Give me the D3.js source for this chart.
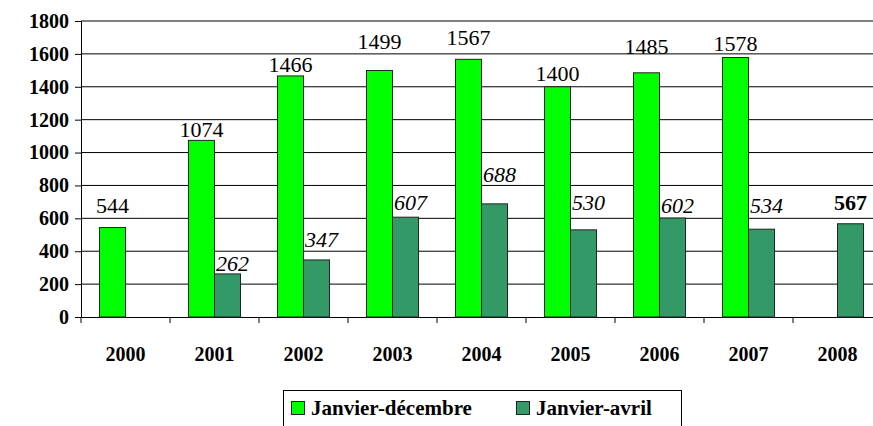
<!DOCTYPE html>
<html>
<head>
<meta charset="utf-8">
<script src="https://cdn.jsdelivr.net/npm/d3@7"></script>
</head>
<body style="margin:0">
<svg id="chart" width="873" height="426" font-family="Liberation Serif"></svg>
<script>
const years = ["2000", "2001", "2002", "2003", "2004", "2005", "2006", "2007", "2008"];
const janDec = [544, 1074, 1466, 1499, 1567, 1400, 1485, 1578, null];
const janApr = [null, 262, 347, 607, 688, 530, 602, 534, 567];
const yTicks = [0, 200, 400, 600, 800, 1000, 1200, 1400, 1600, 1800];
const seriesNames = ["Janvier-décembre", "Janvier-avril"];
const colors = ["#00ff00", "#339966"];

// label layout: pixel gap between bar top and label baseline (as placed in the original)
const liftDec = [15, 3, 4, 21, 14, 6, 19, 7, 0];
const liftApr = [0, 3, 13, 7, 22, 20, 5, 16, 14];

const width = 873, height = 426;
const marginLeft = 81, marginRight = -9, marginTop = 21, marginBottom = 109;
const font = "Liberation Serif";

const svg = d3.select("#chart");

const x = d3.scaleBand(years, [marginLeft, width - marginRight]).paddingInner(0).paddingOuter(0);
const inner = d3.scaleBand(seriesNames, [0, x.bandwidth()]).paddingInner(0).paddingOuter(0.71);
const y = d3.scaleLinear([0, 1800], [height - marginBottom, marginTop]);

// gridlines
svg.append("g")
  .selectAll("line")
  .data(yTicks.slice(1))
  .join("line")
  .attr("x1", marginLeft)
  .attr("x2", width - marginRight)
  .attr("y1", d => y(d))
  .attr("y2", d => y(d))
  .attr("stroke", "#000")
  .attr("stroke-width", 1);

// y axis
const yAxis = svg.append("g")
  .attr("transform", `translate(${marginLeft},0)`)
  .call(d3.axisLeft(y).tickValues(yTicks).tickFormat(d3.format("d")).tickSize(6).tickPadding(6))
  .attr("font-family", font)
  .attr("font-size", 20)
  .attr("font-weight", "bold");
yAxis.select(".domain").attr("stroke", "#000");
yAxis.selectAll(".tick line").attr("stroke", "#000");
yAxis.selectAll(".tick text").attr("fill", "#000");

// x axis
const xAxis = svg.append("g")
  .attr("transform", `translate(0,${y(0)})`)
  .call(d3.axisBottom(x).tickSize(0).tickPadding(30))
  .attr("font-family", font)
  .attr("font-size", 20)
  .attr("font-weight", "bold");
xAxis.select(".domain").attr("stroke", "#000");
xAxis.selectAll(".tick text").attr("fill", "#000");

// category separator ticks
svg.append("g")
  .selectAll("line")
  .data(years)
  .join("line")
  .attr("x1", d => x(d))
  .attr("x2", d => x(d))
  .attr("y1", y(0))
  .attr("y2", y(0) + 6)
  .attr("stroke", "#000");

// bars + value labels
const series = [janDec, janApr];
const lifts = [liftDec, liftApr];
series.forEach((vals, si) => {
  const g = svg.append("g").attr("font-family", font).attr("font-size", 22);
  const data = years.map((yr, i) => ({ yr, v: vals[i], lift: lifts[si][i] })).filter(d => d.v != null);
  g.selectAll("rect")
    .data(data)
    .join("rect")
    .attr("x", d => x(d.yr) + inner(seriesNames[si]))
    .attr("y", d => y(d.v))
    .attr("width", inner.bandwidth())
    .attr("height", d => y(0) - y(d.v))
    .attr("fill", colors[si])
    .attr("stroke", "#222")
    .attr("stroke-width", 1);
  const isItalic = d => si === 1 && d.yr !== "2008";
  g.selectAll("text")
    .data(data)
    .join("text")
    .attr("x", d => x(d.yr) + inner(seriesNames[si]) + inner.bandwidth() / 2 + (isItalic(d) ? 5 : 0))
    .attr("y", d => y(d.v) - d.lift)
    .attr("text-anchor", "middle")
    .attr("font-style", d => isItalic(d) ? "italic" : "normal")
    .attr("font-weight", d => (si === 1 && d.yr === "2008") ? "bold" : "normal")
    .attr("fill", "#000")
    .text(d => d.v);
});

// legend
const legend = svg.append("g").attr("font-family", font).attr("font-size", 21).attr("font-weight", "bold");
legend.append("rect")
  .attr("x", 283.5).attr("y", 390.5)
  .attr("width", 398).attr("height", 45)
  .attr("fill", "#fff").attr("stroke", "#000");
const legendX = [291, 516];
seriesNames.forEach((name, i) => {
  legend.append("rect")
    .attr("x", legendX[i] + 0.5).attr("y", 401.5)
    .attr("width", 13).attr("height", 13)
    .attr("fill", colors[i]).attr("stroke", "#222");
  legend.append("text")
    .attr("x", legendX[i] + 20).attr("y", 415)
    .attr("fill", "#000")
    .text(name);
});
</script>
</body>
</html>
